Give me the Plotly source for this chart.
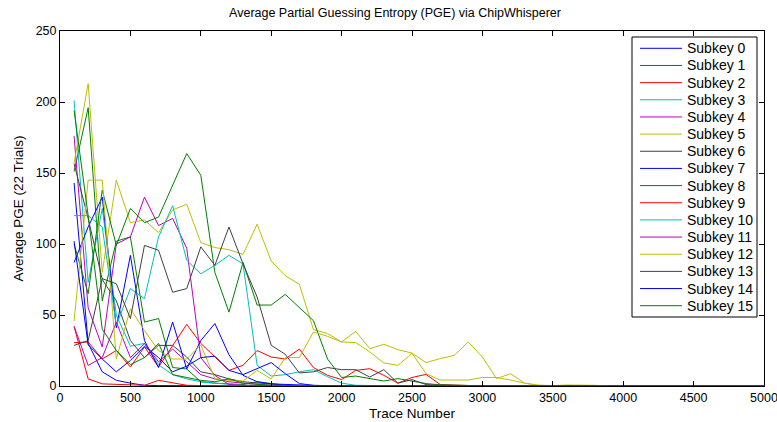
import plotly.graph_objects as go

trace_numbers = [100, 200, 300, 400, 500, 600, 700, 800, 900, 1000,
                 1100, 1200, 1300, 1400, 1500, 1600, 1700, 1800, 1900, 2000,
                 2100, 2200, 2300, 2400, 2500, 2600, 2700, 2800, 2900, 3000,
                 3100, 3200, 3300, 3400, 3500, 3600, 3700, 3800, 3900, 4000,
                 4100, 4200, 4300, 4400, 4500, 4600, 4700, 4800, 4900, 5000]

subkey0 = [143, 30, 10, 4, 2, 0.5, 0.3, 0.2, 0, 0, 0, 0, 0, 0, 0, 0, 0, 0, 0, 0,
           0, 0, 0, 0, 0, 0, 0, 0, 0, 0, 0, 0, 0, 0, 0, 0, 0, 0, 0, 0,
           0, 0, 0, 0, 0, 0, 0, 0, 0, 0]
subkey1 = [151, 196, 60, 102, 105, 45, 47.5, 13, 12, 3, 2, 1.5, 1, 3, 2, 0.5, 0.3, 0, 0, 0,
           0, 0, 0, 0, 0, 0, 0, 0, 0, 0, 0, 0, 0, 0, 0, 0, 0, 0, 0, 0,
           0, 0, 0, 0, 0, 0, 0, 0, 0, 0]
subkey2 = [30.5, 31, 19, 25, 13.4, 27.5, 13.4, 28.6, 43.4, 30, 20.4, 11, 14.6, 25, 20.4, 19, 26, 13, 7.5, 4.5,
           11, 12.2, 7.5, 2, 6, 8.2, 1, 0.5, 0.3, 0.2, 0, 0, 0, 0, 0, 0, 0, 0, 0, 0,
           0, 0, 0, 0, 0, 0, 0, 0, 0, 0]
subkey3 = [201, 73, 125, 50, 28, 30, 15, 8, 5, 3, 2, 1, 0.5, 0.3, 0, 0, 0, 0, 0, 0,
           0, 0, 0, 0, 0, 0, 0, 0, 0, 0, 0, 0, 0, 0, 0, 0, 0, 0, 0, 0,
           0, 0, 0, 0, 0, 0, 0, 0, 0, 0]
subkey4 = [176, 55, 27.5, 100, 105, 133, 113, 118, 97, 20, 7.5, 1, 0.5, 0.3, 0, 0, 0, 0, 0, 0,
           0, 0, 0, 0, 0, 0, 0, 0, 0, 0, 0, 0, 0, 0, 0, 0, 0, 0, 0, 0,
           0, 0, 0, 0, 0, 0, 0, 0, 0, 0]
subkey5 = [157, 213, 80, 145, 115, 117, 108, 124, 128, 101, 97.5, 96, 92.7, 114, 88, 77.7, 71.6, 39.7, 37, 31,
           38.5, 26.3, 29.4, 25.6, 23.2, 16.5, 19.3, 21.6, 31, 20.4, 5.2, 8.7, 2, 0.5, 0.3, 0, 0, 0, 0, 0,
           0, 0, 0, 0, 0, 0, 0, 0, 0, 0]
subkey6 = [156.6, 118, 75, 60, 32, 20, 28.6, 28.6, 20.4, 10, 8, 5, 3, 2, 1, 0.5, 0, 0, 0, 0,
           0, 0, 0, 0, 0, 0, 0, 0, 0, 0, 0, 0, 0, 0, 0, 0, 0, 0, 0, 0,
           0, 0, 0, 0, 0, 0, 0, 0, 0, 0]
subkey7 = [87, 112, 133, 41, 92, 32, 13, 45, 12, 32, 44, 22, 7.5, 3, 1.5, 1, 0.5, 0, 0, 0,
           0, 0, 0, 0, 0, 0, 0, 0, 0, 0, 0, 0, 0, 0, 0, 0, 0, 0, 0, 0,
           0, 0, 0, 0, 0, 0, 0, 0, 0, 0]
subkey8 = [100, 65, 138, 99, 125, 115, 119, 141, 163.7, 148.4, 80, 52, 87, 57, 57, 64.5, 55.6, 46, 19, 6,
           7, 5.2, 3.5, 5.2, 3.5, 1.7, 0.8, 0.5, 0.3, 0, 0, 0, 0, 0, 0.5, 0.5, 0.3, 0, 0, 0,
           0, 0, 0, 0, 0, 0, 0, 0, 0, 0]
subkey9 = [42, 5, 1.5, 1, 0.5, 0.5, 4, 2, 0.5, 0.3, 0, 0, 0, 0, 0, 0, 0, 0, 0, 0,
           0, 0, 0, 0, 0, 0, 0, 0, 0, 0, 0, 0, 0, 0, 0, 0, 0, 0, 0.5, 0.5,
           0.5, 0.3, 0, 0, 0, 0, 0, 0, 0, 0]
subkey10 = [120, 120, 112, 42.7, 68.6, 61.5, 105, 127, 88.5, 79, 85, 92, 86, 14.6, 7, 8, 10, 11.5, 6.5, 2,
            0.5, 0.3, 0, 0, 0, 0, 0, 0, 0, 0, 0, 0, 0, 0, 0, 0, 0, 0, 0, 0,
            0, 0, 0, 0, 0, 0, 0, 0, 0, 0]
subkey11 = [42, 14.5, 20, 45, 20, 30, 17, 26, 17, 8, 5, 3, 2, 1, 0.5, 0, 0, 0, 0, 0,
            0, 0, 0, 0, 0, 0, 0, 0, 0, 0, 0, 0, 0, 0, 0, 0, 0, 0, 0, 0,
            0, 0, 0, 0, 0.5, 0.3, 0, 0, 0, 0]
subkey12 = [45.8, 145, 145, 19, 54.5, 39, 25, 19, 19, 29, 5.2, 4, 3.5, 11, 5, 20, 20, 38, 35, 31,
            30.6, 24, 16.2, 14.6, 23, 8.7, 4.2, 4, 4.2, 6, 6, 4.2, 2, 0.5, 0.3, 0.7, 0.7, 0.5, 0, 0,
            0, 0, 0, 0, 0, 0, 0, 0, 0, 0]
subkey13 = [28.6, 32, 75.6, 72, 47.5, 99, 95.6, 66, 68.6, 98, 85, 112, 86, 62.7, 28.7, 22.3, 9.2, 10, 13, 11.5,
            11.5, 6.3, 11.5, 2, 4.5, 1, 0.5, 0.3, 0, 0, 0, 0, 0, 0, 0, 0, 0, 0, 0, 0,
            0, 0, 0, 0, 0, 0, 0, 0, 0, 0]
subkey14 = [102, 29, 19, 10, 18, 28, 20, 10, 14, 20, 21, 11, 8, 12, 16.5, 8.7, 1.7, 0.5, 0, 0,
            0, 0, 0, 0, 0, 0, 0, 0, 0, 0, 0, 0, 0, 0, 0, 0, 0, 0, 0, 0,
            0, 0, 0, 0, 0, 0, 0, 0, 0, 0]
subkey15 = [194, 120, 40, 25, 15, 20, 30, 8, 6, 4, 3, 5, 2, 1, 0.5, 0.3, 0, 0, 0, 0,
            0, 0, 0, 0, 0, 0, 0, 0, 0, 0, 0, 0, 0, 0, 0, 0, 0, 0, 0, 0,
            0, 0, 0, 0, 0, 0, 0, 0, 0, 0]

series = [subkey0, subkey1, subkey2, subkey3, subkey4, subkey5, subkey6, subkey7,
          subkey8, subkey9, subkey10, subkey11, subkey12, subkey13, subkey14, subkey15]
names = ["Subkey %d" % i for i in range(16)]

color_order = ["rgb(0,0,255)", "rgb(0,128,0)", "rgb(255,0,0)", "rgb(0,191,191)",
               "rgb(191,0,191)", "rgb(191,191,0)", "rgb(64,64,64)"]

W, H = 777, 422
ML, MR, MT, MB = 60, 13, 31, 36
PW, PH = W - ML - MR, H - MT - MB


def px_x(px):
    return (px - ML) / PW


def px_y(py):
    return (H - MB - py) / PH


fig = go.Figure()
for i, (nm, vals) in enumerate(zip(names, series)):
    fig.add_trace(go.Scatter(x=trace_numbers, y=vals, mode="lines", name=nm,
                             showlegend=False,
                             line=dict(color=color_order[i % 7], width=1)))

font = "Liberation Sans, Arial, Helvetica, sans-serif"
axis_common = dict(showline=True, linecolor="black", linewidth=1, mirror="ticks",
                   ticks="inside", ticklen=5, tickcolor="black", showgrid=False,
                   zeroline=False, automargin=False, ticklabeloverflow="allow",
                   tickfont=dict(family=font, size=12.5, color="black"))

# legend drawn as a boxed key (Matlab-style compact spacing)
shapes = [dict(type="rect", xref="paper", yref="paper",
               x0=px_x(632), x1=px_x(757), y0=px_y(317), y1=px_y(37),
               line=dict(color="black", width=1), fillcolor="white", layer="above")]
annotations = []
for i, nm in enumerate(names):
    yc = 48.3 + 17.16 * i
    shapes.append(dict(type="line", xref="paper", yref="paper",
                       x0=px_x(640), x1=px_x(682), y0=px_y(yc), y1=px_y(yc),
                       line=dict(color=color_order[i % 7], width=1), layer="above"))
    annotations.append(dict(text=nm, xref="paper", yref="paper",
                            x=px_x(685), y=px_y(yc), xanchor="left", yanchor="middle",
                            showarrow=False,
                            font=dict(family=font, size=14, color="black")))

fig.update_layout(
    width=W, height=H,
    margin=dict(l=ML, r=MR, t=MT, b=MB),
    paper_bgcolor="white", plot_bgcolor="white",
    title=dict(text="Average Partial Guessing Entropy (PGE) via ChipWhisperer",
               x=395 / W, xanchor="center", y=1 - 13 / H, yanchor="middle",
               font=dict(family=font, size=12.5, color="black")),
    xaxis=dict(range=[0, 5000], tickvals=[0, 500, 1000, 1500, 2000, 2500, 3000, 3500, 4000, 4500, 5000],
               title=dict(text="Trace Number", standoff=4,
                          font=dict(family=font, size=13.5, color="black")),
               **axis_common),
    yaxis=dict(range=[0, 250], tickvals=[0, 50, 100, 150, 200, 250],
               title=dict(text="Average PGE (22 Trials)", standoff=8,
                          font=dict(family=font, size=13.5, color="black")),
               **axis_common),
    shapes=shapes,
    annotations=annotations,
    showlegend=False,
)

fig.write_html("out.html",
               config={"displayModeBar": False},
               post_script="document.body.style.margin='0px';document.body.style.padding='0px';")
